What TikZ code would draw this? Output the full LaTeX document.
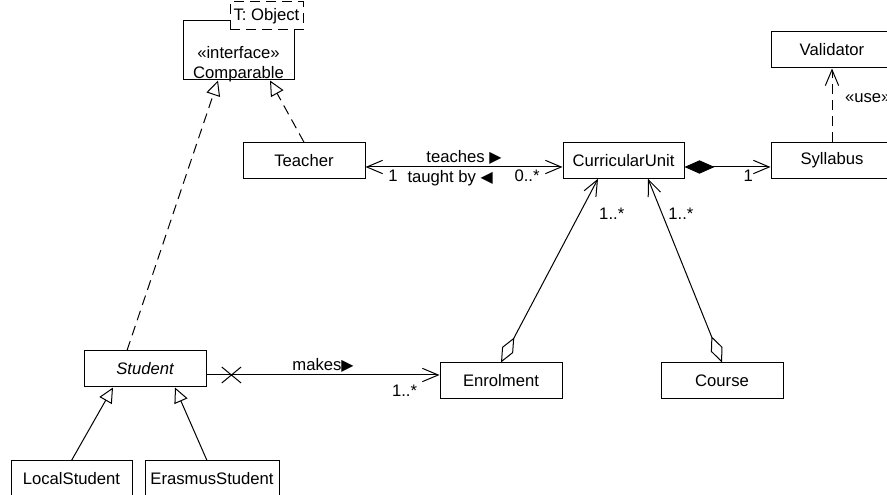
\documentclass[tikz,border=0pt]{standalone}
\usepackage{fontspec}
\setmainfont{Liberation Sans}
\newfontfamily\markfont{DejaVu Sans}
\usetikzlibrary{arrows.meta,shapes.misc,calc}
\newcommand{\rdir}{{\markfont\fontsize{9.5}{9.5}\selectfont ▶}}
\newcommand{\ldir}{{\markfont\fontsize{9.5}{9.5}\selectfont ◀}}

\begin{document}
\begin{tikzpicture}[x=0.6pt,y=-0.6pt,line width=0.6pt,
   cls/.style={draw,fill=white,minimum width=73.2pt,minimum height=21.3pt,inner sep=0pt},
   lbl/.style={inner sep=1.5pt},
   dep/.style={dash pattern=on 6pt off 3.6pt},
   nav/.tip={Straight Barb[length=9.5pt,width=8pt]},
   gen/.tip={Triangle[open,length=9pt,width=8.5pt]},
   comp/.tip={Diamond[length=18pt,width=8pt]},
   aggr/.tip={Diamond[open,length=17pt,width=7.5pt]}]
   \useasboundingbox (0,0) rectangle (887,495);
   \clip (0,0) rectangle (887,495);
   \node[cls,minimum width=66.6pt,minimum height=35.4pt] (comparable) at (238.5,50.5) {};
   \node[align=center,inner sep=0pt] (comparabletext) at (238.5,64) {«interface»\\Comparable};
   \node[cls,dep,minimum width=43.8pt,minimum height=16.8pt] (tparam) at (266.5,16) {T: Object};
   \node[cls] (teacher) at (304,160.5) {Teacher};
   \node[cls,minimum width=72.6pt] (curricularunit) at (623.5,160.5) {CurricularUnit};
   \node[cls] (syllabus) at (832,160.5) {Syllabus};
   \node[cls,minimum height=21.6pt] (validator) at (832,50) {Validator};
   \node[cls,minimum height=21.6pt,font=\itshape] (student) at (145,369) {Student};
   \node[cls,minimum height=21.6pt] (enrolment) at (501,381) {Enrolment};
   \node[cls,minimum height=21.6pt] (course) at (722,381) {Course};
   \node[cls,minimum width=72.6pt,minimum height=21.6pt] (localstudent) at (71.5,479) {LocalStudent};
   \node[cls,minimum width=80.4pt,minimum height=21.6pt] (erasmusstudent) at (212,479) {ErasmusStudent};

   \draw[dep,-gen] ($(student.north)+(-18,0)$) -- ($(comparable.south)+(-20.5,0)$);
   \draw[dep,-gen] (teacher.north) -- ($(comparable.south)+(31.5,0)$);
   \draw[-gen] (localstudent.north) -- ($(student.south)+(-32,0)$);
   \draw[-gen] ($(erasmusstudent.north)+(-5,0)$) -- ($(student.south)+(30,0)$);
   \draw[nav-nav] ($(teacher.east)+(0,6.5)$) -- ($(curricularunit.west)+(0,6.5)$)
      node[lbl,midway,above] (teaches) {teaches \rdir}
      node[lbl,pos=0.43,below] (taughtby) {taught by \ldir}
      node[lbl,pos=0.14,below] (teachermult) {1}
      node[lbl,pos=0.82,below] (unitmult) {0..*};
   \draw[comp-nav] ($(curricularunit.east)+(0,6.5)$) -- ($(syllabus.west)+(0,6.5)$)
      node[lbl,pos=0.74,below] (syllabusmult) {1};
   \draw[dep,-nav] (syllabus.north) -- (validator.south)
      node[lbl,pos=0.6,right=6pt] (use) {«use»};
   \draw[-nav] ($(student.east)+(0,6)$) -- ($(enrolment.west)+(0,-6)$)
      node[pos=0.107,draw,cross out,minimum width=11pt,minimum height=9pt,inner sep=0pt] (nonav) {}
      node[lbl,midway,above] (makes) {makes\rdir}
      node[lbl,pos=0.85,below=4pt] (enrolmult) {1..*};
   \draw[aggr-nav] (enrolment.north) -- ($(curricularunit.south)+(-25.5,0)$)
      node[lbl,pos=0.81,right=10pt] (enrolunitmult) {1..*};
   \draw[aggr-nav] (course.north) -- ($(curricularunit.south)+(24.5,0)$)
      node[lbl,pos=0.81,right=2pt] (courseunitmult) {1..*};
\end{tikzpicture}
\end{document}
